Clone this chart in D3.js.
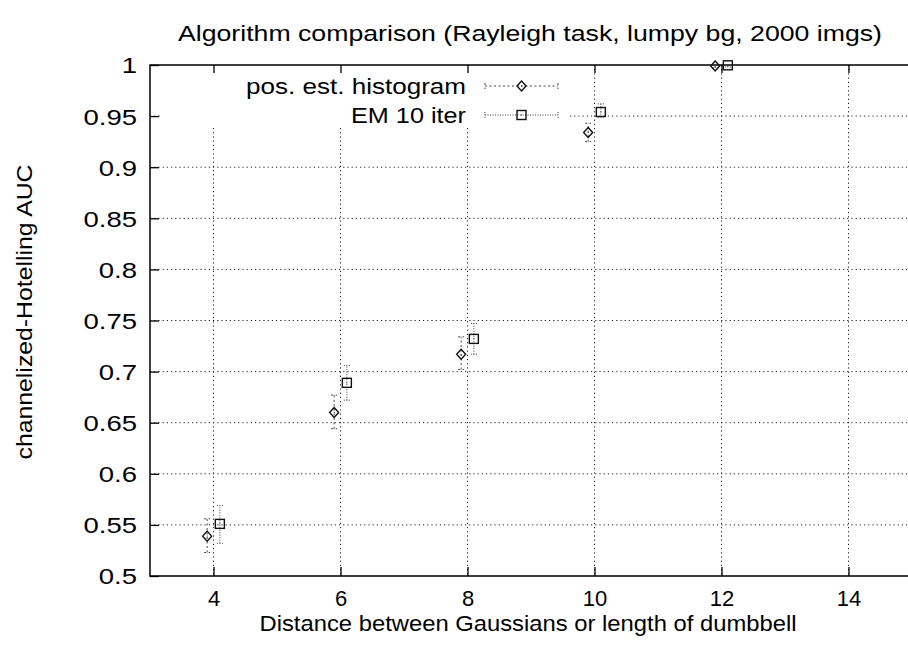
<!DOCTYPE html>
<html>
<head>
<meta charset="utf-8">
<script src="https://cdn.jsdelivr.net/npm/d3@7"></script>
<style>
  html, body { margin: 0; padding: 0; background: #fff; }
  svg { display: block; }
  text { font-family: "Liberation Sans", Arial, Helvetica, sans-serif; fill: #000; }
</style>
</head>
<body>
<svg id="chart" width="908" height="658"></svg>
<script>
// Distances between the two Gaussians (x axis)
const distances = [4, 6, 8, 10, 12];

// Positional-estimate histogram: AUC and error-bar range
const histAUC  = [0.539, 0.660, 0.717, 0.934, 0.999];
const histLow  = [0.523, 0.644, 0.702, 0.925, 0.997];
const histHigh = [0.556, 0.677, 0.734, 0.943, 1.000];

// EM with 10 iterations: AUC and error-bar range
const emAUC  = [0.551, 0.689, 0.732, 0.954, 0.9997];
const emLow  = [0.532, 0.672, 0.717, 0.949, 0.998];
const emHigh = [0.569, 0.706, 0.747, 0.962, 1.000];

const xTicks = [4, 6, 8, 10, 12, 14];
const yTicks = [0.5, 0.55, 0.6, 0.65, 0.7, 0.75, 0.8, 0.85, 0.9, 0.95, 1];

const titleText  = "Algorithm comparison (Rayleigh task, lumpy bg, 2000 imgs)";
const xLabelText = "Distance between Gaussians or length of dumbbell";
const yLabelText = "channelized-Hotelling AUC";
const seriesNames = ["pos. est. histogram", "EM 10 iter"];

const svg = d3.select("#chart");
const W = 908, H = 658;
const plotL = 150, plotT = 65, plotB = 576, plotR = 912;

const x = d3.scaleLinear().domain([3, 15]).range([plotL, plotR]);
const y = d3.scaleLinear().domain([0.5, 1]).range([plotB, plotT]);

const FS = 22;

// widen glyphs horizontally (the typeface is set wide)
function widen(sel, k) {
  sel.each(function () {
    const w = this.getComputedTextLength();
    d3.select(this).attr("textLength", w * k).attr("lengthAdjust", "spacingAndGlyphs");
  });
}
function fitTo(sel, w) {
  sel.attr("textLength", w).attr("lengthAdjust", "spacingAndGlyphs");
}

// grid
const grid = svg.append("g");
grid.selectAll("line.gx").data(xTicks).join("line")
  .attr("x1", d => x(d)).attr("x2", d => x(d))
  .attr("y1", plotT).attr("y2", plotB)
  .attr("stroke", "#222").attr("stroke-width", 1).attr("stroke-dasharray", "1.2,3");
grid.selectAll("line.gy").data(yTicks.filter(v => v > 0.5 && v < 1)).join("line")
  .attr("x1", plotL).attr("x2", W)
  .attr("y1", d => y(d)).attr("y2", d => y(d))
  .attr("stroke", "#222").attr("stroke-width", 1).attr("stroke-dasharray", "1.2,3");

// key background blanks the grid behind it
svg.append("rect").attr("x", 160).attr("y", plotT + 1).attr("width", 410).attr("height", 62).attr("fill", "#fff");

// axes
const yAxis = d3.axisLeft(y).tickValues(yTicks).tickFormat(d3.format("")).tickSize(-9).tickPadding(13);
const gy = svg.append("g").attr("transform", `translate(${plotL},0)`).call(yAxis);
const xAxis = d3.axisBottom(x).tickValues(xTicks).tickFormat(d3.format("")).tickSize(-9).tickPadding(14);
const gx = svg.append("g").attr("transform", `translate(0,${plotB})`).call(xAxis);
const xTop = d3.axisTop(x).tickValues(xTicks).tickFormat("").tickSize(-8);
const gt = svg.append("g").attr("transform", `translate(0,${plotT})`).call(xTop);
[gx, gy, gt].forEach(g => {
  g.select(".domain").remove();
  g.selectAll(".tick line").attr("stroke", "#000").attr("stroke-width", 1.3);
  g.selectAll(".tick text").attr("font-size", FS).attr("font-family", "Liberation Sans, Arial, sans-serif");
});
gy.selectAll(".tick text").attr("dy", "0.36em");
gx.selectAll(".tick text").attr("dy", "0.71em");
widen(gy.selectAll(".tick text"), 1.25);

// border (left, bottom, top)
svg.append("path")
  .attr("d", `M${W},${plotT}H${plotL}V${plotB}H${W}`)
  .attr("fill", "none").attr("stroke", "#000").attr("stroke-width", 1.5);

// series
const offset = 0.1;
const series = [
  { name: seriesNames[0], xs: distances.map(d => d - offset), v: histAUC, lo: histLow, hi: histHigh, dash: "2,2.5", color: "#444", sym: "diamond", keyW: 220 },
  { name: seriesNames[1], xs: distances.map(d => d + offset), v: emAUC, lo: emLow, hi: emHigh, dash: "1,1.5", color: "#444", sym: "square", keyW: 115 }
];

function drawSymbol(g, sym, cx, cy) {
  if (sym === "diamond") {
    g.append("path").attr("d", `M${cx},${cy-5}L${cx+4.5},${cy}L${cx},${cy+5}L${cx-4.5},${cy}Z`)
      .attr("fill", "none").attr("stroke", "#111").attr("stroke-width", 1.4);
  } else {
    g.append("rect").attr("x", cx - 4.5).attr("y", cy - 4.5).attr("width", 9).attr("height", 9)
      .attr("fill", "none").attr("stroke", "#111").attr("stroke-width", 1.4);
  }
  g.append("rect").attr("x", cx - 0.5).attr("y", cy - 0.5).attr("width", 1).attr("height", 1).attr("fill", "#333");
}

const capW = 3;
series.forEach(s => {
  const g = svg.append("g");
  s.xs.forEach((xv, i) => {
    const cx = x(xv);
    g.append("line").attr("x1", cx).attr("x2", cx).attr("y1", y(s.lo[i])).attr("y2", y(s.hi[i]))
      .attr("stroke", s.color).attr("stroke-width", 1).attr("stroke-dasharray", s.dash);
    [s.lo[i], s.hi[i]].forEach(v => {
      g.append("line").attr("x1", cx - capW).attr("x2", cx + capW).attr("y1", y(v)).attr("y2", y(v))
        .attr("stroke", s.color).attr("stroke-width", 1).attr("stroke-dasharray", s.dash);
    });
    drawSymbol(g, s.sym, cx, y(s.v[i]));
  });
});

// key
const keyY = [86, 115];
series.forEach((s, i) => {
  const ky = keyY[i];
  const g = svg.append("g");
  const t = g.append("text").attr("x", 466).attr("y", ky).attr("dy", "0.36em").attr("text-anchor", "end")
    .attr("font-size", FS).text(s.name);
  fitTo(t, s.keyW);
  g.append("line").attr("x1", 485).attr("x2", 558).attr("y1", ky).attr("y2", ky)
    .attr("stroke", s.color).attr("stroke-width", 1).attr("stroke-dasharray", s.dash);
  [485, 558].forEach(xx => g.append("line").attr("x1", xx).attr("x2", xx).attr("y1", ky - 3).attr("y2", ky + 3)
    .attr("stroke", s.color).attr("stroke-width", 1).attr("stroke-dasharray", s.dash));
  drawSymbol(g, s.sym, 521.5, ky);
});

// titles
const title = svg.append("text").attr("x", 530).attr("y", 33).attr("dy", "0.36em").attr("text-anchor", "middle")
  .attr("font-size", FS).text(titleText);
fitTo(title, 704);
const xl = svg.append("text").attr("x", 528).attr("y", 631).attr("text-anchor", "middle")
  .attr("font-size", FS).text(xLabelText);
fitTo(xl, 537);
const yl = svg.append("text").attr("transform", `translate(24,312) rotate(-90)`).attr("dy", "0.36em").attr("text-anchor", "middle")
  .attr("font-size", FS).text(yLabelText);
fitTo(yl, 295);
</script>
</body>
</html>
